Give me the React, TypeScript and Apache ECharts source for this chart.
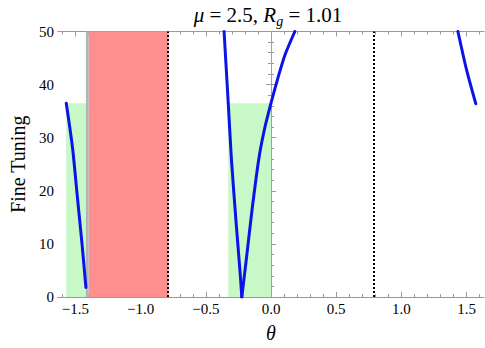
import React, { useEffect, useRef } from "react";
import * as echarts from "echarts";

// ---- data ----
const thetaLeft = [-1.5708, -1.523, -1.486, -1.449, -1.42];
const ftLeft = [36.5, 28.2, 19.0, 9.8, 1.8];

// V-shaped curve: left branch down to the minimum, right branch up from it
const thetaVLeft = [-0.36, -0.328, -0.304, -0.267, -0.237, -0.224];
const ftVLeft = [50, 36.5, 26.1, 13.8, 4.6, 0];
const thetaVRight = [-0.224, -0.185, -0.143, -0.093, -0.05, 0.0, 0.055, 0.109, 0.183];
const ftVRight = [0, 8.0, 16.9, 26.1, 31.6, 36.5, 41.4, 45.7, 50];

const thetaRight = [1.434, 1.499, 1.5708];
const ftRight = [50, 42.9, 36.4];

// shaded regions [from, to] in theta
const greenRegions = [
  [-1.5708, -1.42],
  [-0.328, 0.0],
];
const greenTop = 36.5;
const grayBand = [-1.42, -1.398];
const redRegion = [-1.398, -0.7854];
const dottedLines = [-0.7854, 0.7854];
const zeroLine = [0];

const xMin = -1.634;
const xMax = 1.634;
const yMin = 0;
const yMax = 50;

const xMajorTicks = [-1.5, -1.0, -0.5, 0.0, 0.5, 1.0, 1.5];
const xMinorTicks = [
  -1.6, -1.4, -1.3, -1.2, -1.1, -0.9, -0.8, -0.7, -0.6, -0.4, -0.3, -0.2, -0.1,
  0.1, 0.2, 0.3, 0.4, 0.6, 0.7, 0.8, 0.9, 1.1, 1.2, 1.3, 1.4, 1.6,
];

const FONT = "'Liberation Serif', 'DejaVu Serif', serif";
const FRAME = "#9a9a9a";

const zip = (xs: number[], ys: number[]) => xs.map((x, i) => [x, ys[i]]);

const fmtX = (v: number) => {
  const s = Math.abs(v).toFixed(1);
  return v < -1e-9 ? "\u2212" + s : s;
};

export default function App() {
  const ref = useRef<HTMLDivElement>(null);

  useEffect(() => {
    if (!ref.current) return;
    const chart = echarts.init(ref.current, undefined, { renderer: "svg" });

    const baseX = {
      type: "value" as const,
      min: xMin,
      max: xMax,
      splitLine: { show: false },
      axisLine: { show: true, lineStyle: { color: FRAME, width: 1 } },
    };

    const xAxes = [
      {
        ...baseX,
        position: "bottom",
        name: "θ",
        nameLocation: "middle",
        nameGap: 26,
        nameTextStyle: { fontFamily: FONT, fontSize: 20, fontStyle: "italic", color: "#000" },
        axisTick: { show: true, inside: true, length: 5, customValues: xMajorTicks, lineStyle: { color: FRAME } },
        axisLabel: {
          show: true,
          customValues: xMajorTicks,
          formatter: (v: number) => fmtX(v),
          fontFamily: FONT,
          fontSize: 15,
          color: "#000",
          margin: 4,
        },
      },
      {
        ...baseX,
        position: "bottom",
        axisTick: { show: true, inside: true, length: 3, customValues: xMinorTicks, lineStyle: { color: FRAME } },
        axisLabel: { show: false },
      },
      {
        ...baseX,
        position: "top",
        axisTick: { show: true, inside: true, length: 5, customValues: xMajorTicks, lineStyle: { color: FRAME } },
        axisLabel: { show: false },
      },
      {
        ...baseX,
        position: "top",
        axisTick: { show: true, inside: true, length: 3, customValues: xMinorTicks, lineStyle: { color: FRAME } },
        axisLabel: { show: false },
      },
    ];

    const baseY = {
      type: "value" as const,
      min: yMin,
      max: yMax,
      interval: 10,
      splitLine: { show: false },
      axisLine: { show: true, lineStyle: { color: FRAME, width: 1 } },
      axisTick: { show: true, inside: true, length: 5, lineStyle: { color: FRAME } },
      minorTick: { show: true, splitNumber: 5, length: 3, lineStyle: { color: FRAME } },
    };

    const yAxes = [
      {
        ...baseY,
        position: "left",
        name: "Fine Tuning",
        nameLocation: "middle",
        nameGap: 30,
        nameTextStyle: { fontFamily: FONT, fontSize: 20, color: "#000" },
        axisLabel: { show: true, fontFamily: FONT, fontSize: 15, color: "#000", margin: 4 },
      },
      {
        ...baseY,
        position: "right",
        axisLabel: { show: false },
      },
    ];

    const blue = "#0a14e6";
    const curve = (xs: number[], ys: number[]) => ({
      type: "line",
      xAxisIndex: 0,
      yAxisIndex: 0,
      data: zip(xs, ys),
      showSymbol: false,
      symbol: "none",
      smooth: 0.25,
      clip: true,
      z: 5,
      lineStyle: { color: blue, width: 3, cap: "round", join: "round" },
    });

    const areaData: any[] = [
      ...greenRegions.map((r) => [
        { coord: [r[0], 0], itemStyle: { color: "#c8f8c8" } },
        { coord: [r[1], greenTop] },
      ]),
      [
        { coord: [redRegion[0], yMin], itemStyle: { color: "#ff8e8e" } },
        { coord: [redRegion[1], yMax] },
      ],
      [
        { coord: [grayBand[0], yMin], itemStyle: { color: "#b4b4b4" } },
        { coord: [grayBand[1], yMax] },
      ],
    ];

    const option: any = {
      animation: false,
      textStyle: { fontFamily: FONT },
      title: {
        text: "{i|μ} = 2.5, {i|R}{sub|g} = 1.01",
        left: 263,
        top: -3,
        textAlign: "center",
        textStyle: {
          fontFamily: FONT,
          fontSize: 21,
          fontWeight: "normal",
          color: "#000",
          lineHeight: 26,
          rich: {
            i: { fontFamily: FONT, fontSize: 21, fontStyle: "italic", color: "#000", lineHeight: 26 },
            sub: { fontFamily: FONT, fontSize: 14, fontStyle: "italic", color: "#000", lineHeight: 14, verticalAlign: "bottom" },
          },
        },
      },
      grid: { left: 44, right: 1, top: 31.5, bottom: 45, containLabel: false },
      xAxis: xAxes,
      yAxis: yAxes,
      series: [
        {
          type: "line",
          xAxisIndex: 0,
          yAxisIndex: 0,
          data: [],
          z: 1,
          silent: true,
          markArea: { silent: true, data: areaData },
          markLine: {
            silent: true,
            symbol: "none",
            label: { show: false },
            data: [
              ...zeroLine.map((x) => ({ xAxis: x, lineStyle: { color: "#a0a0a0", width: 1, type: "solid" } })),
              ...dottedLines.map((x) => ({ xAxis: x, lineStyle: { color: "#000", width: 2, type: [2, 2] } })),
            ],
          },
        },
        curve(thetaLeft, ftLeft),
        curve(thetaVLeft, ftVLeft),
        curve(thetaVRight, ftVRight),
        curve(thetaRight, ftRight),
      ],
    };

    chart.setOption(option);
    return () => chart.dispose();
  }, []);

  return (
    <div
      ref={ref}
      style={{ position: "fixed", left: 0, top: 0, width: 485, height: 348, background: "#fff" }}
    />
  );
}
